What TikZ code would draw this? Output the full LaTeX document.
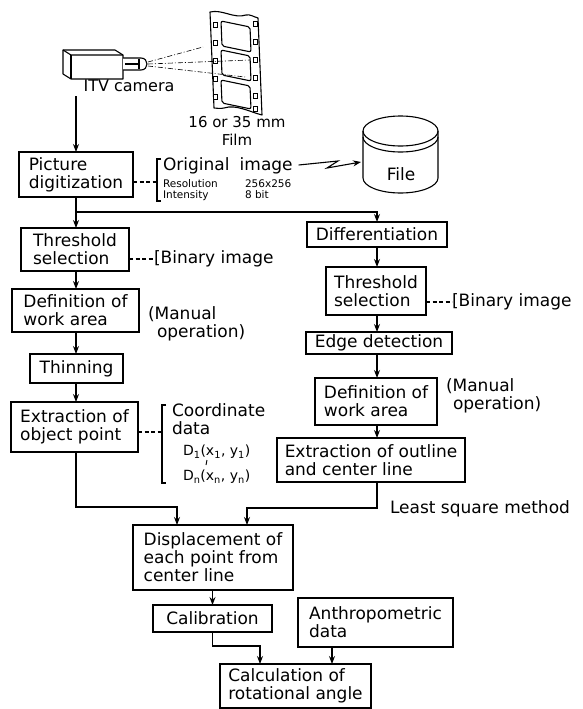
\documentclass[tikz,border=0pt]{standalone}
\usepackage{fontspec}
\setmainfont{DejaVu Sans}
\usetikzlibrary{arrows.meta,calc}
\newcommand{\mainsize}{\fontsize{17}{18}\selectfont}
\begin{document}
\begin{tikzpicture}[x=1pt,y=-1pt,
  every node/.style={inner sep=0pt, outer sep=0pt},
  stepbox/.style={draw, line width=1.2pt, align=left, font=\mainsize},
  lbl/.style={align=left, font=\mainsize},
  small/.style={font=\fontsize{10.5}{11}\selectfont},
  subsc/.style={font=\fontsize{14}{16}\selectfont},
  tip/.style={-{Stealth[length=8pt,width=6pt]}},
  flow/.style={line width=1.1pt, tip},
  link/.style={line width=1.1pt},
  dashlink/.style={line width=1.1pt, dash pattern=on 4pt off 2.5pt},
  ray/.style={line width=0.6pt, dash pattern=on 5pt off 2pt on 1pt off 2pt},
  stroke/.style={line width=1.1pt, line join=round},
  hole/.style={line width=0.9pt, fill=white},
]
\useasboundingbox (0,0) rectangle (583,709);
\fill[white] (0,0) rectangle (583,709);

% ---- ITV camera ----
\draw[stroke, fill=white] (63,50) -- (115,50) -- (123,55) -- (123,79) -- (71,79) -- (63,74) -- cycle;
\draw[stroke] (63,50) -- (71,55) -- (123,55);
\draw[stroke] (71,55) -- (71,79);
\draw[stroke, fill=white] (123,58) -- (141,58) .. controls (149,58) and (149,70) .. (141,70) -- (123,70);
\draw[line width=2pt] (125,64) -- (139,64);
\draw[stroke] (139,59) -- (139,69);
\node[font=\fontsize{16}{18}\selectfont] (camlbl) at (129,86) {ITV camera};

% ---- film strip ----
\draw[stroke, fill=white] (210,12) .. controls (222,9) and (234,19) .. (246,15)
  .. controls (250,14) and (254,17) .. (258,18) -- (262,115)
  .. controls (250,112) and (236,104) .. (224,108)
  .. controls (220,109) and (216,108) .. (214,108) -- cycle;
\foreach \t/\b in {21/46, 50/75, 80/103}
  \draw[stroke, rounded corners=2pt] (221,\t) -- (250,{\t+6}) -- (251,{\b+6}) -- (222,\b) -- cycle;
\foreach \y in {22,40,58,76,94}
  \draw[hole] (213,\y) rectangle (217,{\y+5});
\foreach \y in {21,39,57,75,93,106}
  \draw[hole] (253,\y) rectangle (257,{\y+5});
\draw[ray] (148,62) -- (203,47);
\draw[ray] (148,64) -- (250,60);
\draw[ray] (148,66) -- (245,77);
\node[font=\fontsize{15}{18}\selectfont, align=center] (filmlbl) at (237,131) {16 or 35 mm\\Film};

% ---- file store ----
\draw[stroke, fill=white] (363,131) -- (363,178) arc[start angle=180, end angle=0, x radius=37.5, y radius=15] -- (438,131);
\draw[stroke] (400.5,131) ellipse [x radius=37.5, y radius=15];
\draw[stroke] (363,137) arc[start angle=180, end angle=0, x radius=37.5, y radius=15];
\node[lbl] (file) at (401,174) {File};
\coordinate (filein) at (361,162);

% ---- process boxes ----
\node[stepbox, minimum width=114pt, minimum height=45pt] (pd)   at (76,174.5)   {Picture\\digitization};
\node[stepbox, minimum width=108pt, minimum height=43pt] (ts1)  at (75,249.5)   {Threshold\\selection};
\node[stepbox, minimum width=127pt, minimum height=43pt] (dw1)  at (75.5,310.5) {Definition of\\work area};
\node[stepbox, minimum width=93pt,  minimum height=29pt] (th)   at (76.5,368.5) {Thinning};
\node[stepbox, minimum width=127pt, minimum height=50pt] (eo)   at (74.5,427)   {Extraction of\\object point};
\node[stepbox, minimum width=140pt, minimum height=25pt] (diff) at (377,234.5)  {Differentiation};
\node[stepbox, minimum width=100pt, minimum height=48pt] (ts2)  at (376,291)    {Threshold\\selection};
\node[stepbox, minimum width=146pt, minimum height=22pt] (ed)   at (379,343)    {Edge detection};
\node[stepbox, minimum width=122pt, minimum height=47pt] (dw2)  at (376,401.5)  {Definition of\\work area};
\node[stepbox, minimum width=188pt, minimum height=44pt] (eol)  at (371,460)    {Extraction of outline\\and center line};
\node[stepbox, minimum width=160pt, minimum height=65pt] (disp) at (213,557.5)  {Displacement of\\each point from\\center line};
\node[stepbox, minimum width=119pt, minimum height=27pt] (cal)  at (212.5,618.5) {Calibration};
\node[stepbox, minimum width=155pt, minimum height=49pt] (anth) at (375.5,622.5) {Anthropometric\\data};
\node[stepbox, minimum width=151pt, minimum height=44pt] (calc) at (295.5,686)  {Calculation of\\rotational angle};

% ---- side notes ----
\node[lbl, anchor=west] (orig) at (163,166) {Original\hspace{0.6em}image};
\node[small, anchor=base west] (res) at (163,187) {\makebox[82pt][l]{Resolution}256x256};
\node[small, anchor=base west] (inten) at (163,198) {\makebox[82pt][l]{Intensity}8 bit};
\coordinate (br1) at (157,182);
\draw[link] (161,159) -- (157,159) -- (157,201) -- (161,201);
\draw[dashlink] (pd.east |- br1) -- (br1);
\draw[link, tip] ($(orig.east)+(6,-1)$) -- (338,161) -- (327,168) -- (filein);

\node[lbl, anchor=west] (bin1) at (154,259) {[Binary image};
\draw[dashlink] (ts1.east |- bin1.west) -- (bin1.west);
\node[lbl, anchor=north west] (man1) at (148,307) {(Manual\\\hspace{9pt}operation)};

\node[lbl, anchor=north west] (coord) at (172,404) {Coordinate\\data};
\node[subsc, anchor=west] (d1) at (183,452) {D\textsubscript{1}(x\textsubscript{1}, y\textsubscript{1})};
\node[subsc, anchor=west] (dn) at (183,477) {D\textsubscript{n}(x\textsubscript{n}, y\textsubscript{n})};
\draw[line width=0.9pt] (207,460) -- (206,465);
\coordinate (br3) at (162,432);
\draw[link] (166,405) -- (162,405) -- (162,483) -- (166,483);
\draw[dashlink] (eo.east |- br3) -- (br3);

\node[lbl, anchor=west] (bin2) at (452,302) {[Binary image};
\draw[dashlink] (ts2.east |- bin2.west) -- (bin2.west);
\node[lbl, anchor=north west] (man2) at (446,379) {(Manual\\\hspace{7pt}operation)};
\node[lbl, anchor=west] (lsq) at (390,509) {Least square method};

% ---- connectors ----
\coordinate (camout) at (76,96);
\draw[flow] (camout) -- (pd.north);
\coordinate (split) at (76,212);
\coordinate (splitR) at (377,212);
\draw[link] (pd.south) -- (split);
\draw[flow] (split) -- (split |- ts1.north);
\draw[flow] (split) -- (splitR) -- (diff.north);

\coordinate (xL) at (76,0);
\draw[flow] (ts1.south -| xL) -- (dw1.north -| xL);
\draw[flow] (dw1.south -| xL) -- (th.north -| xL);
\draw[flow] (th.south -| xL) -- (eo.north -| xL);

\coordinate (xR) at (377,0);
\draw[flow] (diff.south -| xR) -- (ts2.north -| xR);
\draw[flow] (ts2.south -| xR) -- (ed.north -| xR);
\draw[flow] (ed.south -| xR) -- (dw2.north -| xR);
\draw[flow] (dw2.south -| xR) -- (eol.north -| xR);

\coordinate (m1) at (76,507);
\coordinate (m2) at (177,507);
\draw[flow] (eo.south -| xL) -- (m1) -- (m2) -- (m2 |- disp.north);
\coordinate (r1) at (377,508);
\coordinate (r2) at (247,508);
\draw[flow] (eol.south -| xR) -- (r1) -- (r2) -- (r2 |- disp.north);

\draw[flow] (cal.north |- disp.south) -- (cal.north);
\coordinate (c1) at (212.5,646);
\coordinate (c2) at (260,646);
\draw[flow] (cal.south) -- (c1) -- (c2) -- (c2 |- calc.north);
\coordinate (a1) at (332,0);
\draw[flow] (anth.south -| a1) -- (calc.north -| a1);
\end{tikzpicture}
\end{document}
